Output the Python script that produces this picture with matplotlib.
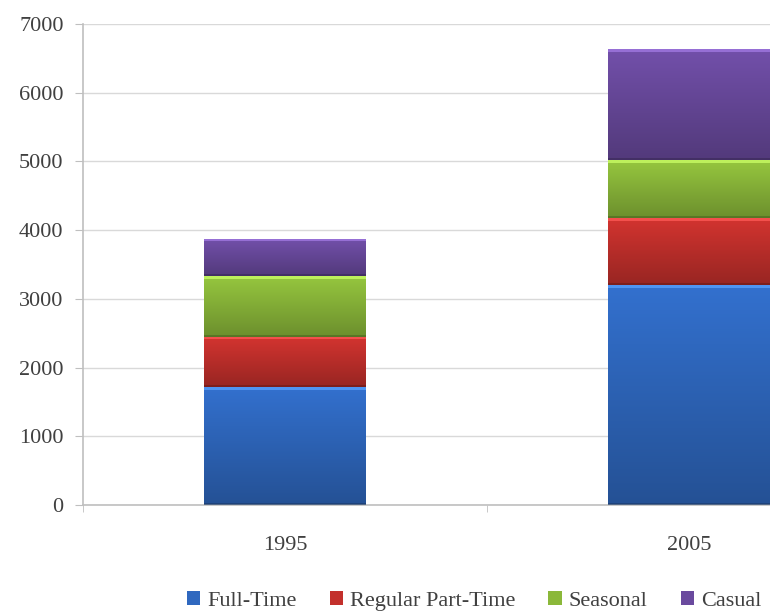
import numpy as np
import matplotlib
matplotlib.use("Agg")
import matplotlib.pyplot as plt
from matplotlib.colors import to_rgb
from matplotlib.patches import Rectangle

years = ["1995", "2005"]
series = ["Full-Time", "Regular Part-Time", "Seasonal", "Casual"]
full_time = [1720, 3200]
regular_part_time = [725, 975]
seasonal = [890, 840]
casual = [540, 1625]
values = [full_time, regular_part_time, seasonal, casual]
colors = ["#2F68BF", "#C3302C", "#8BB83A", "#6A4A9E"]
y_ticks = [0, 1000, 2000, 3000, 4000, 5000, 6000, 7000]

plt.rcParams["font.family"] = ["Liberation Serif", "DejaVu Serif"]

fig = plt.figure(figsize=(7.7, 6.13), dpi=100)
W, H = 770, 613
ax = fig.add_axes([83 / W, (H - 505) / H, (891 - 83) / W, (505 - 24) / H])

x = np.arange(len(years))
bottom = np.zeros(len(years))


def shade(ax, patch, base):
    """Fill a bar with a vertical gradient and a thin bevel on top and bottom."""
    rgb = np.array(to_rgb(base))
    x0, y0 = patch.get_x(), patch.get_y()
    w, h = patch.get_width(), patch.get_height()
    n = 64
    t = np.linspace(0, 1, n)[:, None]  # 0 bottom -> 1 top
    light = np.clip(rgb * (0.78 + 0.30 * t), 0, 1)
    img = light[:, None, :].repeat(2, axis=1)
    im = ax.imshow(img, extent=[x0, x0 + w, y0, y0 + h], origin="lower",
                   aspect="auto", zorder=2, interpolation="bilinear")
    im.set_clip_path(patch)
    hi = min(h * 0.05, 45)
    ax.add_patch(Rectangle((x0, y0 + h - hi), w, hi,
                           color=np.clip(rgb * 1.25 + 0.12, 0, 1), lw=0,
                           zorder=3, alpha=0.75))
    ax.add_patch(Rectangle((x0, y0), w, min(h * 0.04, 35),
                           color=rgb * 0.55, lw=0, zorder=3, alpha=0.6))


handles = []
for vals, name, col in zip(values, series, colors):
    bars = ax.bar(x, vals, width=0.4, bottom=bottom, color=col,
                  label=name, zorder=2, linewidth=0)
    for p in bars.patches:
        shade(ax, p, col)
    handles.append(bars)
    bottom = bottom + np.array(vals)

ax.set_xlim(-0.5, 1.5)
ax.set_ylim(0, 7000)
ax.set_yticks(y_ticks)
ax.set_yticklabels([str(v) for v in y_ticks])
ax.yaxis.grid(True, color="#D9D9D9", linewidth=1.0, zorder=0)
ax.set_axisbelow(True)

ax.set_xticks(x)
ax.set_xticklabels(years)
ax.set_xticks([-0.5, 0.5, 1.5], minor=True)
ax.tick_params(axis="x", which="major", length=0, pad=22,
               labelsize=16, labelcolor="#404040")
ax.tick_params(axis="x", which="minor", length=5, color="#BFBFBF")
ax.tick_params(axis="y", length=6, color="#BFBFBF", pad=8,
               labelsize=16, labelcolor="#404040")

for side in ["top", "right"]:
    ax.spines[side].set_visible(False)
for side in ["left", "bottom"]:
    ax.spines[side].set_color("#BFBFBF")
    ax.spines[side].set_linewidth(1.2)

fig.legend(handles=handles, labels=series, loc="center left",
           bbox_to_anchor=(187 / W, 1 - 601 / H), ncol=4, frameon=False,
           fontsize=16, handlelength=0.6, handleheight=0.6, borderpad=0,
           borderaxespad=0, handletextpad=0.3, columnspacing=1.5,
           labelcolor="#404040")

fig.savefig("out.png", dpi=100)
